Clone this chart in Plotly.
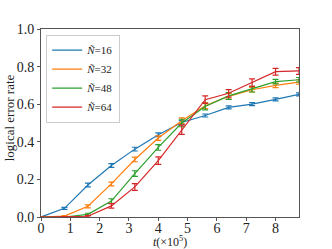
import plotly.graph_objects as go

t = [0, 0.8, 1.6, 2.4, 3.2, 4.0, 4.8, 5.6, 6.4, 7.2, 8.0, 8.8]
labels = ["16", "32", "48", "64"]
colors = ["#1f77b4", "#ff7f0e", "#2ca02c", "#d62728"]
n16 = [0, 0.046, 0.17, 0.274, 0.361, 0.437, 0.503, 0.54, 0.583, 0.60, 0.626, 0.652]
n32 = [0, 0.005, 0.057, 0.176, 0.306, 0.42, 0.512, 0.592, 0.642, 0.677, 0.70, 0.718]
n48 = [0, 0.0, 0.014, 0.085, 0.231, 0.37, 0.50, 0.588, 0.644, 0.68, 0.72, 0.73]
n64 = [0, 0.0, 0.004, 0.059, 0.16, 0.30, 0.464, 0.624, 0.658, 0.715, 0.773, 0.777]
e16 = [0, 0.005, 0.01, 0.01, 0.01, 0.01, 0.01, 0.008, 0.008, 0.008, 0.008, 0.008]
e32 = [0, 0.003, 0.008, 0.01, 0.012, 0.012, 0.015, 0.015, 0.015, 0.012, 0.012, 0.012]
e48 = [0, 0.002, 0.006, 0.012, 0.015, 0.015, 0.02, 0.018, 0.018, 0.015, 0.012, 0.012]
e64 = [0, 0.002, 0.005, 0.012, 0.018, 0.02, 0.025, 0.02, 0.02, 0.02, 0.018, 0.018]
series = [n16, n32, n48, n64]
errs = [e16, e32, e48, e64]

fig = go.Figure()
for lab, c, y, e in zip(labels, colors, series, errs):
    fig.add_trace(go.Scatter(
        x=t, y=y, mode="lines", name="<i>Ñ</i>=" + lab,
        line=dict(color=c, width=1.2),
        error_y=dict(type="data", array=e, visible=True, color=c, thickness=1.2, width=3),
    ))

font = "Liberation Serif, DejaVu Serif, serif"
fig.update_layout(
    width=332, height=249,
    margin=dict(l=41, r=33, t=29, b=32),
    paper_bgcolor="white", plot_bgcolor="white",
    font=dict(family=font, size=14, color="#222"),
    showlegend=True,
    legend=dict(x=0.02, y=0.97, xanchor="left", yanchor="top",
                bgcolor="rgba(255,255,255,0.8)", bordercolor="#ccc", borderwidth=1,
                font=dict(size=11), tracegroupgap=0, itemwidth=30),
    xaxis=dict(range=[0, 8.8], tickvals=[0, 1, 2, 3, 4, 5, 6, 7, 8],
               automargin=False, ticklabelstandoff=-5,
               showgrid=False, zeroline=False, showline=True, linecolor="#555",
               linewidth=1, mirror=True, ticks="outside", ticklen=3, tickcolor="#555"),
    yaxis=dict(range=[0, 1.0], tickvals=[0, 0.2, 0.4, 0.6, 0.8, 1.0],
               tickformat=".1f", automargin=False,
               showgrid=False, zeroline=False, showline=True, linecolor="#555",
               linewidth=1, mirror=True, ticks="outside", ticklen=3, tickcolor="#555"),
    annotations=[
        dict(text="<i>t</i>(×10<sup>5</sup>)", xref="paper", yref="paper",
             x=0.5, y=0, xanchor="center", yanchor="top", yshift=-15,
             showarrow=False, font=dict(size=12)),
        dict(text="logical error rate", xref="paper", yref="paper",
             x=0, y=0.525, xanchor="center", yanchor="middle", xshift=-32,
             textangle=-90, showarrow=False, font=dict(size=13)),
    ],
)
fig.write_html("out.html", config={"displayModeBar": False},
               post_script="document.body.style.margin='0';")
